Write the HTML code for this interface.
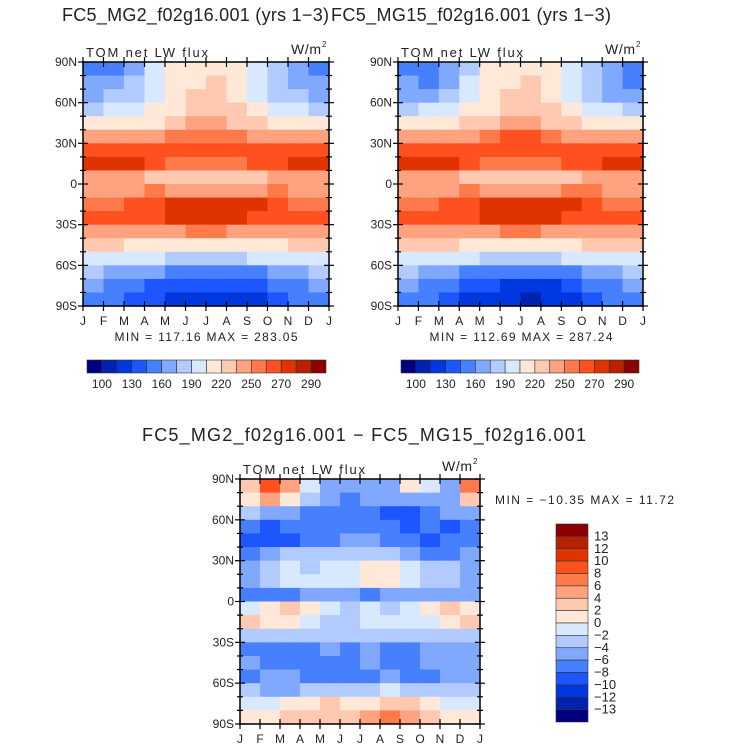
<!DOCTYPE html>
<html><head><meta charset="utf-8"><style>
html,body{margin:0;padding:0;background:#fff;}
svg{display:block;font-family:"Liberation Sans",sans-serif;}
</style></head><body>
<svg id="c" width="733" height="753" viewBox="0 0 733 753" xmlns="http://www.w3.org/2000/svg">
<rect width="733" height="753" fill="#fff"/>
</svg>
<script>
const months=["J","F","M","A","M","J","J","A","S","O","N","D","J"];
const latLabels=["90N","60N","30N","0","30S","60S","90S"];
const colors=["#00007f","#0022b0","#0038e0","#1d55ff","#4680ff","#80a8ff","#b2cbff","#d8e8ff","#ffe8d8","#ffc8b0","#ffa27f","#ff7a4a","#ff5020","#e03400","#b82200","#8b0000"];
const levelsAbs=[100,115,130,145,160,175,190,205,220,235,250,260,270,280,290];
const levelsAbsLabels=["100","130","160","190","220","250","270","290"];
const levelsDiff=[-13,-12,-10,-8,-6,-4,-2,0,2,4,6,8,10,12,13];
const levelsDiffLabels=["13","12","10","8","6","4","2","0","−2","−4","−6","−8","−10","−12","−13"];
const dataMG2=[
[158,158,172,190,205,215,215,210,195,178,162,158],
[162,165,178,192,210,218,220,212,198,182,168,162],
[172,175,185,198,212,222,225,215,202,188,175,172],
[188,190,195,205,218,228,230,222,210,198,190,188],
[210,210,212,218,228,238,240,232,222,215,210,210],
[238,238,240,245,250,258,258,252,245,240,238,238],
[262,262,262,262,262,265,266,264,262,262,262,262],
[274,276,270,262,258,258,258,258,260,265,272,274],
[248,246,240,230,226,224,224,226,232,242,248,248],
[246,246,248,250,248,248,248,248,248,250,246,246],
[252,256,262,268,274,276,278,276,272,262,256,252],
[262,262,265,268,270,272,272,270,268,265,262,262],
[245,245,245,245,248,250,250,248,245,245,245,245],
[220,220,218,215,212,210,210,212,215,218,220,220],
[200,198,195,192,188,185,185,188,192,195,198,200],
[175,170,165,160,155,150,150,152,158,165,172,175],
[162,158,148,140,135,132,132,133,140,150,158,162],
[152,148,140,130,125,122,120,120,128,140,150,152]];
const dataMG15=[
[156,150,168,188,205,215,215,208,192,175,160,155],
[160,158,172,190,208,218,220,210,195,178,162,158],
[170,172,182,196,212,222,225,215,200,185,172,170],
[188,190,195,205,218,228,230,222,210,198,190,188],
[212,212,214,220,230,240,242,234,224,216,212,212],
[240,240,242,246,252,260,260,254,246,242,240,240],
[264,264,264,264,264,266,268,266,264,264,264,264],
[275,276,272,262,258,258,258,258,260,266,272,275],
[248,246,240,230,226,224,224,226,232,242,248,248],
[246,246,248,250,248,248,248,248,250,258,248,246],
[254,258,262,268,274,276,278,276,272,262,256,252],
[264,264,265,268,270,272,272,270,268,265,262,262],
[246,246,246,246,248,250,250,248,246,246,246,246],
[222,222,220,216,214,212,212,214,216,220,222,222],
[200,198,195,192,188,185,185,188,192,195,198,200],
[178,172,165,158,152,148,148,150,156,165,174,178],
[160,155,145,138,132,128,126,128,136,148,158,162],
[150,145,138,128,122,116,113,115,125,138,150,152]];
const dataDiff=[
[3,9,5,-1,-5,-5,-5,-5,1,-1,-5,7],
[1,4,1,-3,-5,-7,-6,-5,-5,-5,-5,3],
[-3,-5,-5,-7,-7,-7,-7,-9,-9,-7,-5,-5],
[-7,-9,-8,-7,-7,-7,-7,-7,-9,-7,-9,-7],
[-9,-9,-9,-7,-7,-5,-5,-7,-7,-9,-7,-7],
[-7,-5,-3,-3,-3,-3,-3,-3,-5,-7,-7,-5],
[-5,-3,-1,-3,-1,-1,1,1,-1,-3,-3,-5],
[-5,-3,-1,-1,-1,-1,1,1,-1,-3,-3,-5],
[-7,-7,-7,-5,-5,-5,-7,-5,-5,-5,-5,-5],
[-1,1,3,1,-1,-3,-1,-3,-1,1,3,1],
[3,1,1,-1,-3,-3,-1,-1,-1,-1,1,3],
[-3,-3,-3,-3,-3,-3,-3,-3,-3,-3,-3,-3],
[-7,-7,-7,-7,-5,-7,-5,-7,-7,-5,-5,-5],
[-5,-7,-7,-7,-7,-7,-5,-7,-7,-5,-5,-5],
[-7,-5,-5,-7,-7,-7,-7,-5,-7,-7,-5,-5],
[-3,-5,-5,-3,-3,-3,-3,-1,-3,-3,-3,-3],
[-1,-1,1,1,3,1,1,3,3,1,-1,-1],
[1,1,3,3,3,3,5,7,5,3,1,1]];

const NS="http://www.w3.org/2000/svg";
const svg=document.getElementById('c');
function mk(tag,attrs,parent){const e=document.createElementNS(NS,tag);for(const k in attrs)e.setAttribute(k,attrs[k]);(parent||svg).appendChild(e);return e;}
function txt(s,x,y,size,anchor,parent,len){const a={x:x,y:y,'font-size':size,'text-anchor':anchor||'start',fill:'#222'};if(len){a.textLength=len;a.lengthAdjust='spacing';}const t=mk('text',a,parent);t.textContent=s;return t;}
function cls(v,lv){let i=0;for(const b of lv){if(v>=b)i++;}return i;}

function panel(name,data,lv,x0,y0,w,h){
  const g=mk('g',{});
  
  
  const nr=data.length,nc=data[0].length;
  const xs=c=>x0+c*w/nc, ys=r=>y0+r*h/nr;
  for(let r=0;r<nr;r++)for(let c=0;c<nc;c++){
    const cell=mk('rect',{x:xs(c),y:ys(r),width:w/nc+0.6,height:h/nr+0.6,fill:colors[cls(data[r][c],lv)]},g);
    
    
  }
  mk('rect',{x:x0,y:y0,width:w,height:h,fill:'none',stroke:'#000','stroke-width':1.5},g);
  for(let i=0;i<=12;i++){const x=x0+i*w/12;
    mk('line',{x1:x,x2:x,y1:y0-5,y2:y0+5,stroke:'#000','stroke-width':1.2},g);
    mk('line',{x1:x,x2:x,y1:y0+h-5,y2:y0+h+5,stroke:'#000','stroke-width':1.2},g);
    const t=txt(months[i],x,y0+h+19,12,'middle',g);
    
  }
  for(let i=0;i<=18;i++){const y=y0+i*h/18;const L=(i%3==0)?5:3;
    mk('line',{x1:x0-L,x2:x0+L,y1:y,y2:y,stroke:'#000','stroke-width':1.2},g);
    mk('line',{x1:x0+w-L,x2:x0+w+L,y1:y,y2:y,stroke:'#000','stroke-width':1.2},g);
    if(i%3==0){const t=txt(latLabels[i/3],x0-6,y+4,12,'end',g);
      }
  }
  const a=txt('TOM  net  LW  flux',x0+3,y0-5,13,'start',g,122);
  
  const u=txt('W/m',x0+w-38,y0-8,14,'start',g,30);
  
  txt('2',x0+w-7,y0-15,8,'start',g);
}
function hbar(name,x0,y0,w,h){
  const g=mk('g',{});
  
  const n=colors.length,bw=w/n;
  colors.forEach((c,i)=>{mk('rect',{x:x0+i*bw,y:y0,width:bw,height:h,fill:c,stroke:'#333','stroke-width':0.6},g);});
  levelsAbsLabels.forEach((s,k)=>{const t=txt(s,x0+(2*k+1)*bw,y0+h+15,12,'middle',g);
    });
}
function vbar(name,x0,y0,w,h){
  const g=mk('g',{});
  
  const n=colors.length,bh=h/n;
  colors.slice().reverse().forEach((c,i)=>{mk('rect',{x:x0,y:y0+i*bh,width:w,height:bh,fill:c,stroke:'#333','stroke-width':0.6},g);});
  levelsDiffLabels.forEach((s,k)=>{const t=txt(s,x0+w+6,y0+(k+1)*bh+4,13,'start',g);
    });
}
let t;
t=txt('FC5_MG2_f02g16.001 (yrs 1−3)',62,21,18,'start',null,267);
t=txt('FC5_MG15_f02g16.001 (yrs 1−3)',331,21,18,'start',null,280);
panel('mg2-panel',dataMG2,levelsAbs,83,62,246,244);
panel('mg15-panel',dataMG15,levelsAbs,398,62,245,244);
t=txt('MIN = 117.16  MAX = 283.05',206,341,12,'middle',null,183);
t=txt('MIN = 112.69  MAX = 287.24',521,341,12,'middle',null,183);
hbar('mg2-colorbar',87,360,239,13);
hbar('mg15-colorbar',401,360,238,13);
t=txt('FC5_MG2_f02g16.001 − FC5_MG15_f02g16.001',364,441,18,'middle',null,444);
panel('diff-panel',dataDiff,levelsDiff,240,479,240,245);
t=txt('MIN = −10.35  MAX =   11.72',495,504,12,'start',null,179);
vbar('diff-colorbar',556,524,32,198);
</script>
</body></html>
